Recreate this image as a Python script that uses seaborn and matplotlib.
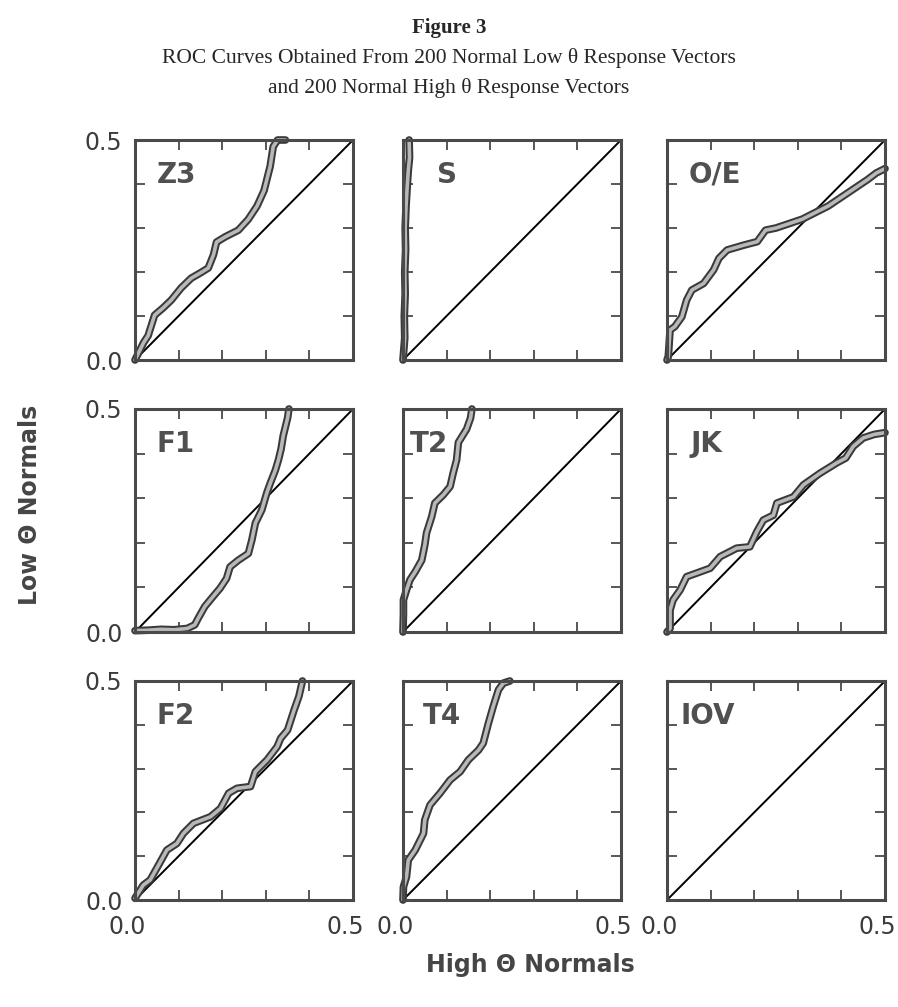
import matplotlib
matplotlib.use("Agg")
import matplotlib.pyplot as plt
import matplotlib.transforms as mtransforms
import seaborn as sns
import numpy as np

# ---------------- data ----------------
panel_names = ["Z3", "S", "O/E", "F1", "T2", "JK", "F2", "T4", "IOV"]
tick_values = [0.0, 0.1, 0.2, 0.3, 0.4, 0.5]
tick_labels = ["0.0", "", "", "", "", "0.5"]
diag_x = [0.0, 0.5]
diag_y = [0.0, 0.5]

z3_x = [0.0, 0.01, 0.02, 0.03, 0.045, 0.064, 0.083, 0.106, 0.129, 0.150, 0.168, 0.180,
        0.187, 0.207, 0.237, 0.26, 0.28, 0.296, 0.31, 0.317, 0.327, 0.345]
z3_y = [0.0, 0.02, 0.04, 0.055, 0.102, 0.118, 0.136, 0.164, 0.186, 0.198, 0.209, 0.239,
        0.268, 0.280, 0.295, 0.32, 0.35, 0.385, 0.44, 0.485, 0.5, 0.5]

s_x = [0.0, 0.004, 0.003, 0.005, 0.004, 0.006, 0.005, 0.007, 0.010, 0.012, 0.015, 0.014]
s_y = [0.0, 0.05, 0.10, 0.15, 0.20, 0.25, 0.30, 0.35, 0.40, 0.43, 0.46, 0.50]

oe_x = [0.0, 0.003, 0.007, 0.018, 0.034, 0.045, 0.057, 0.084, 0.107, 0.119, 0.138, 0.176,
        0.207, 0.226, 0.25, 0.28, 0.31, 0.34, 0.37, 0.40, 0.43, 0.46, 0.48, 0.5]
oe_y = [0.0, 0.008, 0.068, 0.076, 0.098, 0.136, 0.159, 0.174, 0.205, 0.231, 0.25, 0.261,
        0.269, 0.295, 0.30, 0.31, 0.32, 0.335, 0.35, 0.37, 0.39, 0.41, 0.425, 0.435]

f1_x = [0.0, 0.03, 0.06, 0.09, 0.12, 0.137, 0.145, 0.160, 0.176, 0.195, 0.210, 0.218,
        0.237, 0.260, 0.268, 0.276, 0.291, 0.302, 0.310, 0.322, 0.329, 0.335, 0.34,
        0.345, 0.35, 0.353]
f1_y = [0.003, 0.004, 0.006, 0.005, 0.008, 0.016, 0.031, 0.057, 0.076, 0.098, 0.120, 0.146,
        0.161, 0.176, 0.206, 0.244, 0.274, 0.311, 0.333, 0.363, 0.386, 0.41, 0.44,
        0.46, 0.48, 0.5]

t2_x = [0.0, 0.001, 0.001, 0.008, 0.016, 0.028, 0.043, 0.050, 0.054, 0.066, 0.073, 0.092,
        0.108, 0.115, 0.123, 0.127, 0.146, 0.155, 0.158]
t2_y = [0.0, 0.04, 0.072, 0.094, 0.117, 0.135, 0.161, 0.195, 0.222, 0.259, 0.289, 0.307,
        0.326, 0.356, 0.386, 0.425, 0.455, 0.48, 0.5]

jk_x = [0.0, 0.007, 0.007, 0.014, 0.030, 0.045, 0.068, 0.099, 0.122, 0.160, 0.190, 0.206,
        0.221, 0.244, 0.252, 0.290, 0.313, 0.351, 0.389, 0.41, 0.427, 0.45, 0.475, 0.5]
jk_y = [0.0, 0.008, 0.049, 0.072, 0.094, 0.124, 0.132, 0.143, 0.169, 0.188, 0.191, 0.225,
        0.251, 0.262, 0.289, 0.303, 0.330, 0.356, 0.379, 0.39, 0.416, 0.435, 0.443, 0.447]

f2_x = [0.0, 0.019, 0.035, 0.058, 0.073, 0.096, 0.111, 0.134, 0.173, 0.196, 0.215, 0.234,
        0.265, 0.276, 0.303, 0.326, 0.334, 0.350, 0.365, 0.376, 0.384]
f2_y = [0.004, 0.034, 0.046, 0.087, 0.114, 0.129, 0.152, 0.175, 0.190, 0.209, 0.244, 0.255,
        0.259, 0.293, 0.320, 0.350, 0.369, 0.388, 0.434, 0.465, 0.5]

t4_x = [0.0, 0.001, 0.008, 0.012, 0.028, 0.047, 0.050, 0.062, 0.085, 0.108, 0.131, 0.150,
        0.173, 0.184, 0.196, 0.207, 0.219, 0.230, 0.245]
t4_y = [0.0, 0.030, 0.053, 0.091, 0.114, 0.152, 0.183, 0.217, 0.244, 0.274, 0.293, 0.320,
        0.342, 0.358, 0.404, 0.442, 0.48, 0.495, 0.5]

iov_x = []
iov_y = []

curves_x = [z3_x, s_x, oe_x, f1_x, t2_x, jk_x, f2_x, t4_x, iov_x]
curves_y = [z3_y, s_y, oe_y, f1_y, t2_y, jk_y, f2_y, t4_y, iov_y]

# ---------------- style ----------------
sns.set_style("white")
plt.rcParams["font.family"] = ["DejaVu Sans"]

W, H = 898, 1007
fig = plt.figure(figsize=(W / 100, H / 100), dpi=100)

cols_px = [(135, 353), (403, 621), (667, 885)]
rows_px = [(140, 360), (409, 632), (681, 900)]
label_dx = [0.10, 0.155, 0.10, 0.10, 0.03, 0.11, 0.10, 0.09, 0.06]

frame_color = "#4a4a4a"
text_color = "#3c3c3c"
shift_left = mtransforms.ScaledTranslation(-0.08, 0, fig.dpi_scale_trans)

for i, name in enumerate(panel_names):
    r, c = divmod(i, 3)
    x0, x1 = cols_px[c]
    y0, y1 = rows_px[r]
    ax = fig.add_axes([x0 / W, 1 - y1 / H, (x1 - x0) / W, (y1 - y0) / H])
    ax.set_xlim(0, 0.5)
    ax.set_ylim(0, 0.5)

    sns.lineplot(x=diag_x, y=diag_y, ax=ax, color="black", lw=1.4,
                 estimator=None, sort=False)
    if len(curves_x[i]) > 0:
        sns.lineplot(x=curves_x[i], y=curves_y[i], ax=ax, color="#3a3a3a", lw=5.5,
                     estimator=None, sort=False, solid_capstyle="round")
        ax.lines[-1].set_clip_on(False)
        sns.lineplot(x=curves_x[i], y=curves_y[i], ax=ax, color="#b8b8b8", lw=2.6,
                     estimator=None, sort=False, solid_capstyle="round")
        ax.lines[-1].set_clip_on(False)

    ax.set_xticks(tick_values)
    ax.set_yticks(tick_values)
    ax.set_xticklabels(tick_labels if r == 2 else [""] * 6)
    ax.set_yticklabels(tick_labels if c == 0 else [""] * 6)
    ax.tick_params(direction="in", length=7, width=1.3, color=frame_color,
                   top=True, right=True, bottom=True, left=True,
                   labelsize=17, labelcolor=text_color)
    ax.tick_params(axis="x", pad=11)
    ax.tick_params(axis="y", pad=9)
    for lab in ax.get_xticklabels():
        lab.set_transform(lab.get_transform() + shift_left)
    ax.set_xlabel("")
    ax.set_ylabel("")
    for sp in ax.spines.values():
        sp.set_color(frame_color)
        sp.set_linewidth(2.2)
        sp.set_visible(True)

    ax.text(label_dx[i], 0.905, name, transform=ax.transAxes, ha="left", va="top",
            fontsize=20, fontweight="bold", color="#505050")

# titles
serif = ["Liberation Serif", "DejaVu Serif"]
fig.text(0.5, 1 - 28 / H, "Figure 3", ha="center", va="center",
         fontsize=15, fontweight="bold", family=serif)
fig.text(0.5, 1 - 58 / H, "ROC Curves Obtained From 200 Normal Low θ Response Vectors",
         ha="center", va="center", fontsize=15.5, family=serif)
fig.text(0.5, 1 - 88 / H, "and 200 Normal High θ Response Vectors",
         ha="center", va="center", fontsize=15.5, family=serif)

# axis labels
fig.text(530 / W, 1 - 965 / H, "High Θ Normals", ha="center", va="center",
         fontsize=17, fontweight="bold", color="#454545")
fig.text(30 / W, 1 - 505 / H, "Low Θ Normals", ha="center", va="center", rotation=90,
         fontsize=17, fontweight="bold", color="#454545")

fig.savefig("out.png", dpi=100, facecolor="white")
